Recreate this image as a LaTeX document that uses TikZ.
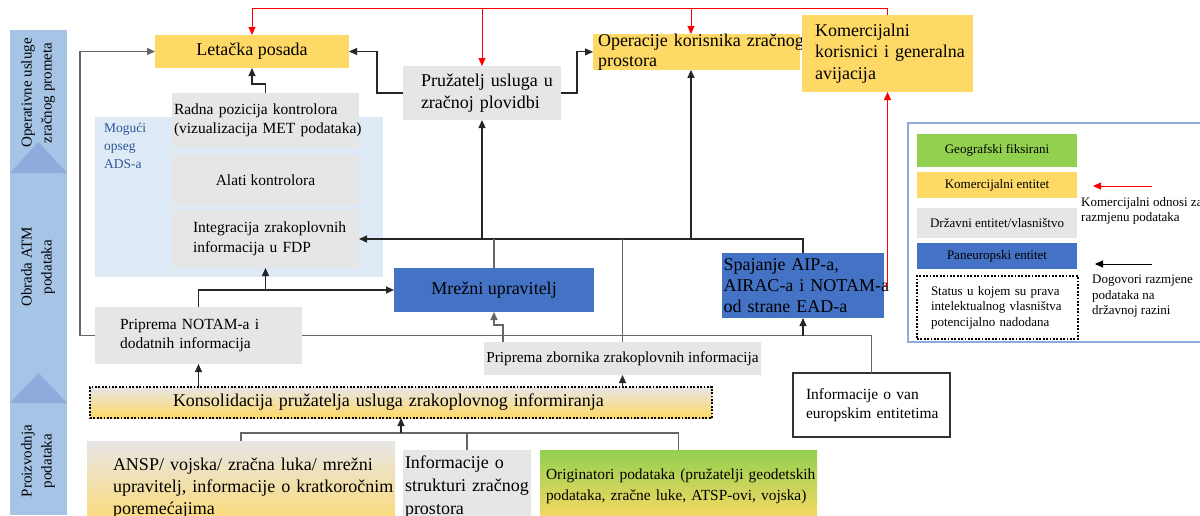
\documentclass[tikz,border=0pt]{standalone}
\usepackage{fontspec}
\setmainfont{Liberation Serif}
\usepackage{tikz}
\usetikzlibrary{arrows.meta}

\definecolor{komzuta}{RGB}{255,217,102}
\definecolor{drzsiva}{RGB}{231,230,230}
\definecolor{panplava}{RGB}{68,114,196}
\definecolor{geozelena}{RGB}{146,208,80}
\definecolor{adsplava}{RGB}{222,235,247}
\definecolor{traka}{RGB}{166,196,229}
\definecolor{chevron}{RGB}{143,170,220}
\definecolor{okvir}{RGB}{143,170,220}
\definecolor{natpis}{RGB}{47,85,151}

\newcommand{\fveliki}{\fontsize{18}{21.5}\selectfont}
\newcommand{\fsrednji}{\fontsize{15.5}{19.5}\selectfont}
\newcommand{\fmali}{\fontsize{13}{15.5}\selectfont}

\tikzset{
        ent/.style={rectangle, inner sep=0pt, outer sep=0pt, anchor=north west, align=center},
        kom/.style={ent, fill=komzuta},
        drz/.style={ent, fill=drzsiva},
        pan/.style={ent, fill=panplava},
        geo/.style={ent, fill=geozelena},
        velicina/.style 2 args={minimum width=#1, minimum height=#2},
        lijevo/.style 2 args={align=left, inner xsep=#1, text width=#2},
        veza/.style={draw=black!85, line width=1.1pt},
        sivaveza/.style={draw=black!60, line width=1.1pt},
        crvena/.style={draw=red, line width=0.9pt},
        strel/.style={-{Triangle[length=8pt,width=7pt]}},
        tockice/.style={draw=black, line width=1.8pt, dash pattern=on 1.8pt off 1.6pt}
}

\begin{document}
\begin{tikzpicture}[x=1pt, y=-1pt]
        \useasboundingbox (0,0) rectangle (1200,515);

        \fill[traka] (10,30) rectangle (67,515);
        \fill[chevron] (10,173) -- (38.5,142) -- (67,173) -- cycle;
        \fill[chevron] (10,403) -- (38.5,373) -- (67,403) -- cycle;
        \node[rotate=90, align=center, font=\fontsize{15}{20}\selectfont] (faza1) at (38,93) {Operativne usluge\\zračnog prometa};
        \node[rotate=90, align=center, font=\fontsize{15}{20}\selectfont] (faza2) at (38,267) {Obrada ATM\\podataka};
        \node[rotate=90, align=center, font=\fontsize{15}{20}\selectfont] (faza3) at (38,461) {Proizvodnja\\podataka};

        \fill[adsplava] (95,117) rectangle (383,277);
        \node[anchor=north west, align=left, inner sep=0pt, text=natpis, font=\fontsize{13.5}{18}\selectfont] (ads) at (104,123) {Mogući\\opseg\\ADS-a};

        \node[kom, velicina={194pt}{33pt}, font=\fveliki] (posada) at (155,35) {Letačka posada};
        \node[drz, velicina={187pt}{55pt}, lijevo={2pt}{183pt}, font=\fsrednji] (radna) at (172,93) {\mbox{Radna pozicija kontrolora}\\\mbox{(vizualizacija MET podataka)}};
        \node[drz, velicina={187pt}{50pt}, font=\fsrednji] (alati) at (172,155) {Alati kontrolora};
        \node[drz, velicina={187pt}{58pt}, lijevo={21pt}{145pt}, font=\fsrednji] (integr) at (172,210) {\mbox{Integracija zrakoplovnih}\\informacija u FDP};

        \node[drz, velicina={158pt}{54pt}, lijevo={18pt}{122pt}, font=\fveliki] (pruz) at (403,66) {\mbox{Pružatelj usluga u}\\zračnoj plovidbi};
        \node[kom, velicina={207pt}{35pt}, lijevo={5pt}{197pt}, font=\fontsize{18}{19.5}\selectfont] (operacije) at (593,34) {\mbox{Operacije korisnika zračnog}\\prostora};
        \node[kom, velicina={171pt}{77pt}, lijevo={13pt}{145pt}, font=\fveliki] (komerc) at (802,15) {Komercijalni\\\mbox{korisnici i generalna}\\avijacija};

        \node[pan, velicina={200pt}{44pt}, font=\fveliki] (mrezni) at (394,268) {Mrežni upravitelj};
        \node[pan, velicina={162pt}{65pt}, lijevo={1.5pt}{159pt}, font=\fontsize{18}{21}\selectfont] (spajanje) at (722,253) {Spajanje AIP-a,\\\mbox{AIRAC-a i NOTAM-a}\\od strane EAD-a};

        \node[drz, velicina={207pt}{57pt}, lijevo={25pt}{157pt}, font=\fsrednji] (notam) at (95,307) {Priprema NOTAM-a i\\dodatnih informacija};
        \node[drz, velicina={277pt}{33pt}, font=\fontsize{15.3}{18}\selectfont] (zbornik) at (484,342) {Priprema zbornika zrakoplovnih informacija};
        \node[ent, top color=drzsiva, bottom color=komzuta, tockice, velicina={622pt}{31pt}, lijevo={9pt}{604pt}, font=\fveliki] (konsol) at (90,387) {\hspace*{74pt}Konsolidacija pružatelja usluga zrakoplovnog informiranja};
        \node[ent, fill=white, draw=black!80, line width=1.2pt, velicina={157pt}{64pt}, lijevo={13pt}{131pt}, font=\fsrednji] (vaneu) at (793,373) {Informacije o van\\\mbox{europskim entitetima}};

        \node[ent, top color=drzsiva, bottom color=komzuta, velicina={308pt}{94pt}, lijevo={26pt}{256pt}, font=\fontsize{18}{22}\selectfont] (ansp) at (87,441) {\mbox{ANSP/ vojska/ zračna luka/ mrežni}\\\mbox{upravitelj, informacije o kratkoročnim}\\poremećajima};
        \node[drz, velicina={128pt}{74pt}, lijevo={2pt}{124pt}, font=\fontsize{18}{23}\selectfont] (struktura) at (403,450) {Informacije o\\\mbox{strukturi zračnog}\\prostora};
        \node[ent, top color=geozelena, bottom color=komzuta, velicina={277pt}{73pt}, lijevo={6pt}{265pt}, font=\fontsize{15.4}{21}\selectfont] (origin) at (540,450) {\mbox{Originatori podataka (pružatelji geodetskih}\\\mbox{podataka, zračne luke, ATSP-ovi, vojska)}};

        \node[ent, draw=okvir, line width=1.5pt, velicina={300pt}{219pt}] (legenda) at (908,123) {};
        \node[geo, velicina={160pt}{33pt}, font=\fmali] (leggeo) at (917,134) {Geografski fiksirani};
        \node[kom, velicina={160pt}{26pt}, font=\fmali] (legkom) at (917,172) {Komercijalni entitet};
        \node[drz, velicina={160pt}{30pt}, font=\fmali] (legdrz) at (917,208) {Državni entitet/vlasništvo};
        \node[pan, velicina={160pt}{26pt}, font=\fmali] (legpan) at (917,243) {Paneuropski entitet};
        \node[ent, fill=white, tockice, velicina={161pt}{63pt}, lijevo={14pt}{133pt}, font=\fmali] (legstatus) at (917,276) {Status u kojem su prava\\\mbox{intelektualnog vlasništva}\\potencijalno nadodana};

        \coordinate (crvpoc) at (1152,186);
        \coordinate (crvkraj) at (1093,186);
        \draw[crvena, strel] (crvpoc) -- (crvkraj);
        \node[anchor=north west, align=left, inner sep=0pt, font=\fmali] (kodnosi) at (1081,197) {Komercijalni odnosi za\\razmjenu podataka};

        \coordinate (crnpoc) at (1152,264);
        \coordinate (crnkraj) at (1095,264);
        \draw[draw=black, line width=0.9pt, strel] (crnpoc) -- (crnkraj);
        \node[anchor=north west, align=left, inner sep=0pt, font=\fmali] (dogovori) at (1092,275) {Dogovori razmjene\\podataka na\\državnoj razini};

        \coordinate (gore) at ([yshift=7pt]komerc.north);
        \coordinate (opgore) at ([xshift=-5.5pt]operacije.north);
        \coordinate (opdno) at ([xshift=-5.5pt]operacije.south);
        \draw[crvena, strel] (komerc.north) -- (gore) -| (posada.north);
        \draw[crvena, strel] (gore -| pruz.north) -- (pruz.north);
        \draw[crvena, strel] (gore -| opgore) -- (opgore);
        \draw[crvena, strel] (spajanje.east) -| (komerc.south);

        \draw[veza, strel] (pruz.west) -- ++(-26,0) |- (posada.east);
        \draw[veza, strel] (pruz.east) -- ++(16,0) |- (operacije.west);
        \draw[veza, strel] (radna.north) -- ++(0,-9) -| (posada.south);
        \draw[sivaveza, strel] (notam.west) -- ++(-15,0) |- (posada.west);

        \draw[veza, strel] (notam.north) -- (notam.north |- mrezni.west) -- (mrezni.west);
        \draw[veza, strel] (integr.south |- mrezni.west) -- (integr.south);

        \coordinate (sab) at (spajanje.north |- integr.east);
        \draw[veza, strel] (spajanje.north) -- (sab) -- (integr.east);
        \draw[sivaveza] (mrezni.north) -- (mrezni.north |- integr.east);
        \draw[sivaveza] (zbornik.north) -- (zbornik.north |- integr.east);
        \draw[veza, strel] (pruz.south |- integr.east) -- (pruz.south);
        \draw[veza, strel] (opdno |- integr.east) -- (opdno);

        \coordinate (zbl) at ([xshift=-119.5pt]zbornik.north);
        \draw[sivaveza, strel] (zbl) -- ++(0,-17) -| (mrezni.south);

        \draw[sivaveza] (notam.east) -- (vaneu.north |- notam.east) -- (vaneu.north);
        \draw[veza, strel] (spajanje.south |- notam.east) -- (spajanje.south);

        \draw[veza, strel] (konsol.north -| notam.south) -- (notam.south);
        \draw[veza, strel] (konsol.north -| zbornik.south) -- (zbornik.south);

        \coordinate (racva) at ([yshift=8pt]ansp.north);
        \draw[sivaveza] (ansp.north) -- (racva) -| (origin.north);
        \draw[sivaveza] (racva -| struktura.north) -- (struktura.north);
        \draw[veza, strel] (racva -| konsol.south) -- (konsol.south);
\end{tikzpicture}
\end{document}
